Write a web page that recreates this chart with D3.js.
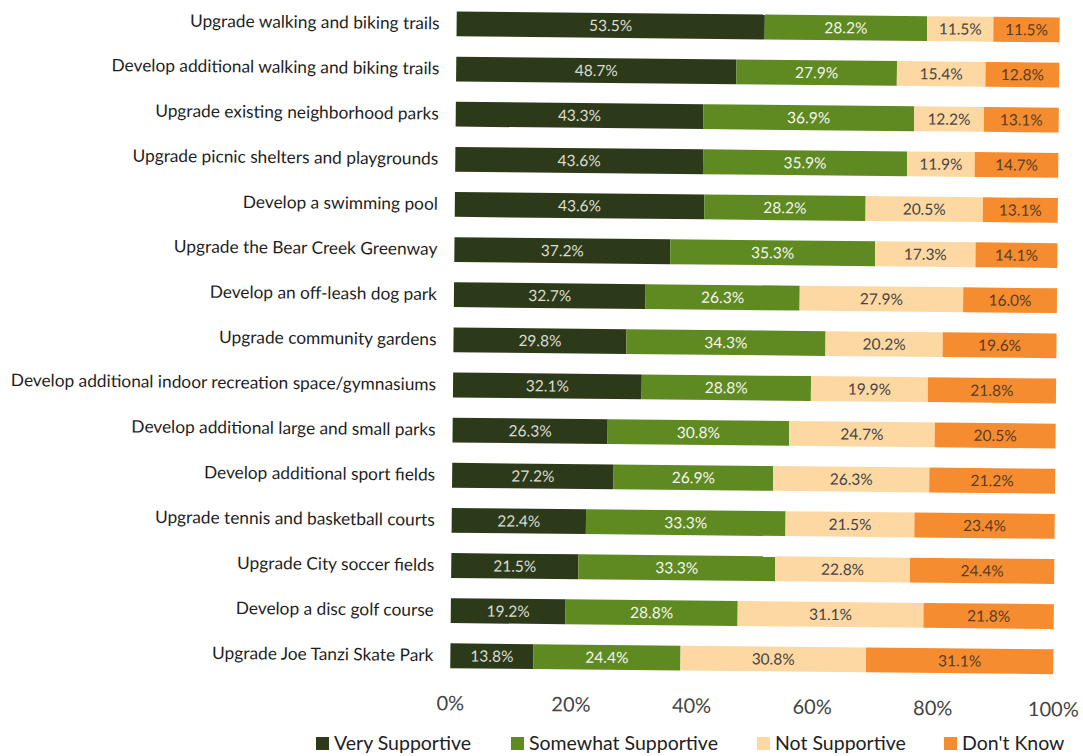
<!DOCTYPE html>
<html>
<head>
<meta charset="utf-8">
<script src="https://cdn.jsdelivr.net/npm/d3@7"></script>
<style>
  html, body { margin: 0; padding: 0; background: #ffffff; }
  svg { display: block; font-family: Lato, "Open Sans", sans-serif; }
</style>
</head>
<body>
<svg id="chart" width="1083" height="756"></svg>
<script>
// Survey items, top to bottom
const categories = [
  "Upgrade walking and biking trails",
  "Develop additional walking and biking trails",
  "Upgrade existing neighborhood parks",
  "Upgrade picnic shelters and playgrounds",
  "Develop a swimming pool",
  "Upgrade the Bear Creek Greenway",
  "Develop an off-leash dog park",
  "Upgrade community gardens",
  "Develop additional indoor recreation space/gymnasiums",
  "Develop additional large and small parks",
  "Develop additional sport fields",
  "Upgrade tennis and basketball courts",
  "Upgrade City soccer fields",
  "Develop a disc golf course",
  "Upgrade Joe Tanzi Skate Park"
];

// Response shares (%) per item
const verySupportive      = [53.5, 48.7, 43.3, 43.6, 43.6, 37.2, 32.7, 29.8, 32.1, 26.3, 27.2, 22.4, 21.5, 19.2, 13.8];
const somewhatSupportive  = [28.2, 27.9, 36.9, 35.9, 28.2, 35.3, 26.3, 34.3, 28.8, 30.8, 26.9, 33.3, 33.3, 28.8, 24.4];
const notSupportive       = [11.5, 15.4, 12.2, 11.9, 20.5, 17.3, 27.9, 20.2, 19.9, 24.7, 26.3, 21.5, 22.8, 31.1, 30.8];
const dontKnow            = [11.5, 12.8, 13.1, 14.7, 13.1, 14.1, 16.0, 19.6, 21.8, 20.5, 21.2, 23.4, 24.4, 21.8, 31.1];

const seriesNames = ["Very Supportive", "Somewhat Supportive", "Not Supportive", "Don't Know"];
const tickValues = [0, 0.2, 0.4, 0.6, 0.8, 1.0];

const fills      = ["#2c3a19", "#5e8a21", "#fdd8a2", "#f68c30"];
const labelInk   = ["#dcdcd2", "#f4f6ee", "#444444", "#5a3c22"];

const rows = categories.map((c, i) => ({
  category: c,
  "Very Supportive": verySupportive[i],
  "Somewhat Supportive": somewhatSupportive[i],
  "Not Supportive": notSupportive[i],
  "Don't Know": dontKnow[i]
}));

// Each bar is stacked to its own total and spread over the full width
const stacked = d3.stack()
  .keys(seriesNames)
  .offset(d3.stackOffsetExpand)(rows);

const svg = d3.select("#chart");
const root = svg.append("g").attr("transform", "rotate(0.57, 540, 340)");

const x = d3.scaleLinear().domain([0, 1]).range([453.5, 1056.5]);
const y = d3.scaleBand()
  .domain(categories)
  .range([2.2, 679.2])
  .paddingInner(0.45)
  .paddingOuter(0.225);

const color = d3.scaleOrdinal().domain(seriesNames).range(fills);
const ink = d3.scaleOrdinal().domain(seriesNames).range(labelInk);

// Bars
const layers = root.append("g")
  .selectAll("g")
  .data(stacked)
  .join("g")
  .attr("fill", d => color(d.key));

layers.selectAll("rect")
  .data(d => d.map(p => Object.assign(p, { key: d.key })))
  .join("rect")
  .attr("x", d => x(d[0]))
  .attr("y", d => y(d.data.category))
  .attr("width", d => x(d[1]) - x(d[0]))
  .attr("height", y.bandwidth());

// Value labels centred in each segment
root.append("g")
  .selectAll("g")
  .data(stacked)
  .join("g")
  .attr("fill", d => ink(d.key))
  .selectAll("text")
  .data(d => d.map(p => ({ key: d.key, p })))
  .join("text")
  .attr("x", d => (x(d.p[0]) + x(d.p[1])) / 2)
  .attr("y", d => y(d.p.data.category) + y.bandwidth() / 2)
  .attr("dy", "0.36em")
  .attr("text-anchor", "middle")
  .attr("font-size", 15.5)
  .text(d => d.p.data[d.key].toFixed(1) + "%");

// Category axis (labels only)
const yAxis = root.append("g")
  .attr("transform", `translate(${x(0)},0)`)
  .call(d3.axisLeft(y).tickSize(0).tickPadding(17));
yAxis.select(".domain").remove();
yAxis.selectAll("text")
  .attr("font-family", "Lato, sans-serif")
  .attr("font-size", 17.3)
  .attr("fill", "#1e1e1e");

// Percentage axis (labels only)
const xAxis = root.append("g")
  .attr("transform", "translate(0,691)")
  .call(d3.axisBottom(x).tickValues(tickValues).tickFormat(d3.format(".0%")).tickSize(0).tickPadding(6));
xAxis.select(".domain").remove();
xAxis.selectAll("text")
  .attr("font-family", "Lato, sans-serif")
  .attr("font-size", 20)
  .attr("fill", "#444444");

// Legend
const legendX = [316, 511, 757, 944];
const legend = svg.append("g")
  .selectAll("g")
  .data(seriesNames)
  .join("g")
  .attr("transform", (d, i) => `translate(${legendX[i]},737)`);
legend.append("rect")
  .attr("width", 13).attr("height", 13)
  .attr("fill", d => color(d));
legend.append("text")
  .attr("x", 18).attr("y", 13)
  .attr("font-size", 19.5)
  .attr("fill", "#222222")
  .text(d => d);
</script>
</body>
</html>
